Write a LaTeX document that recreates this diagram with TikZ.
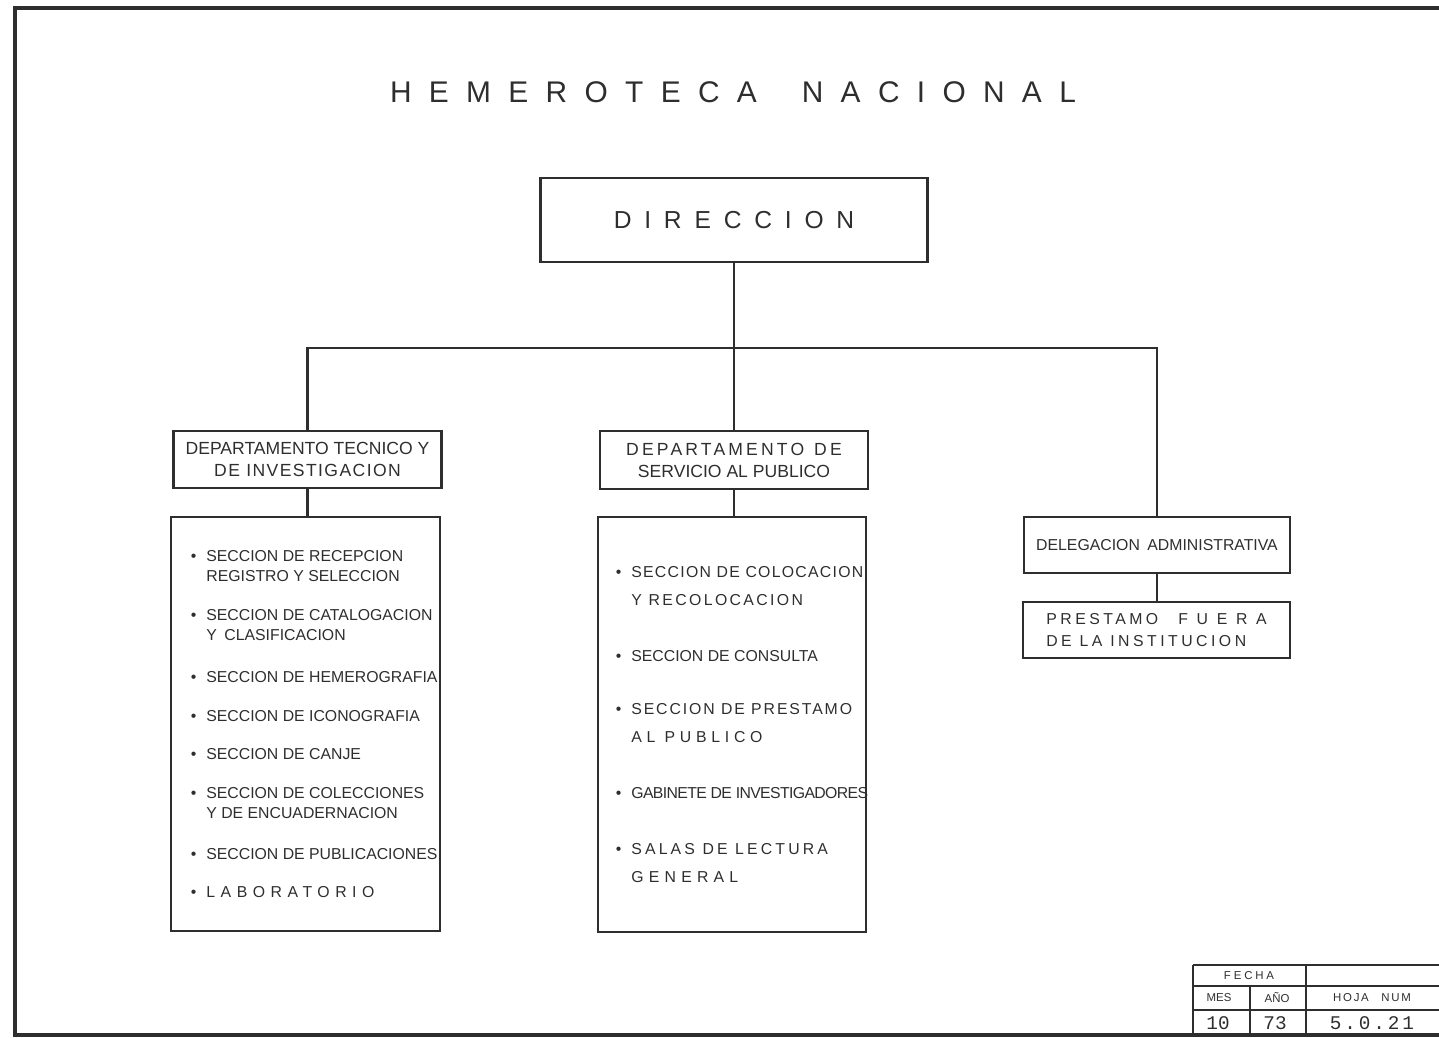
\documentclass[tikz,border=0pt]{standalone}
\usepackage{fontspec}
\setmainfont{Liberation Sans}
\newfontfamily\numfont{Liberation Mono}
\usetikzlibrary{calc}
\definecolor{ink}{HTML}{2E2E2E}
\newcommand{\spaced}[2]{{\addfontfeature{LetterSpace=#1}#2}}

\tikzset{
    box/.style={draw=ink,line width=1.5pt,inner sep=0pt,align=center,text=ink},
    link/.style={draw=ink,line width=1.5pt},
    sec/.style={anchor=base west,align=left,inner sep=0pt,text=ink},
    cell/.style={inner sep=0pt,text=ink},
}

\begin{document}
\begin{tikzpicture}[x=0.2mm,y=-0.2mm]
            \useasboundingbox (0,0) rectangle (1439,1038);
            \draw[ink,line width=1.8pt] (1439,8) -- (15,8) -- (15,1035) -- (1439,1035);
            \node[cell,font=\fontsize{17}{20}\selectfont] (title) at (733,92) {\spaced{58}{HEMEROTECA}\hspace{9mm}\spaced{58}{NACIONAL}};
            \node[box,minimum width=77.4mm,minimum height=16.8mm,font=\fontsize{14}{16}\selectfont] (dir) at (734,220) {\spaced{52}{DIRECCION}};
            \node[box,minimum width=53.6mm,minimum height=11.4mm,font=\fontsize{10}{12.5}\selectfont] (tec) at (307.5,459.5) {DEPARTAMENTO TECNICO Y\\\spaced{8}{DE INVESTIGACION}};
            \node[box,minimum width=53.8mm,minimum height=82.8mm] (teclist) at (305.5,724) {};
            \node[box,minimum width=53.6mm,minimum height=11.6mm,font=\fontsize{10}{12.5}\selectfont] (sp) at (734,460) {\spaced{18}{DEPARTAMENTO}\hspace{2mm}\spaced{18}{DE}\\SERVICIO AL PUBLICO};
            \node[box,minimum width=53.6mm,minimum height=83mm] (splist) at (732,724.5) {};
            \node[box,minimum width=53.2mm,minimum height=11.2mm,font=\fontsize{9}{11}\selectfont] (adm) at (1157,545) {DELEGACION\hspace{1.5mm}ADMINISTRATIVA};
            \node[box,minimum width=53.4mm,minimum height=11.2mm,font=\fontsize{9}{12.5}\selectfont,align=left] (pres) at (1156.5,630) {\spaced{22}{PRESTAMO}\hspace{4mm}\spaced{55}{FUERA}\\\spaced{22}{DE LA INSTITUCION}};
            \coordinate (bus) at (734,348);
            \draw[link] (dir) -- (sp);
            \draw[link] (tec.north) |- (bus) -| (adm.north);
            \draw[link] (tec) -- (tec.south |- teclist.north);
            \draw[link] (sp) -- (sp.south |- splist.north);
            \draw[link] (adm) -- (adm.south |- pres.north);
            \foreach \yy/\txt [count=\i] in {
                581.5/{SECCION DE RECEPCION\\REGISTRO Y SELECCION},
                640.5/{SECCION DE CATALOGACION\\Y\hspace{1.5mm}CLASIFICACION},
                682/{SECCION DE HEMEROGRAFIA},
                721/{SECCION DE ICONOGRAFIA},
                759/{SECCION DE CANJE},
                818.5/{SECCION DE COLECCIONES\\Y DE ENCUADERNACION},
                859/{SECCION DE PUBLICACIONES},
                897/{\spaced{35}{LABORATORIO}}}{
                \node[sec,font=\fontsize{9}{11.3}\selectfont] (tec\i) at (206,\yy) {\llap{\textbullet\hspace{2mm}}\txt};
            }
            \foreach \yy/\txt [count=\i] in {
                605.5/{\spaced{8}{SECCION DE COLOCACION}\\\spaced{15}{Y RECOLOCACION}},
                661.5/{SECCION DE CONSULTA},
                742.5/{\spaced{12}{SECCION DE PRESTAMO}\\\spaced{30}{AL PUBLICO}},
                798.5/{\spaced{-4}{GABINETE DE INVESTIGADORES}},
                882.5/{\spaced{20}{SALAS DE LECTURA}\\\spaced{33}{GENERAL}}}{
                \node[sec,font=\fontsize{9}{15.9}\selectfont] (sp\i) at (631,\yy) {\llap{\textbullet\hspace{2mm}}\txt};
            }
            \draw[ink,line width=1pt] (1193,965) -- (1439,965) (1193,986) -- (1439,986) (1193,1010) -- (1439,1010);
            \draw[ink,line width=1pt] (1193,965) -- (1193,1035) (1306,965) -- (1306,1035) (1250,986) -- (1250,1035);
            \node[cell,font=\fontsize{6.5}{8}\selectfont] (fecha) at (1249,975.5) {\spaced{25}{FECHA}};
            \node[cell,font=\fontsize{6.5}{8}\selectfont] (mes) at (1219,998) {MES};
            \node[cell,font=\fontsize{6.5}{8}\selectfont] (anio) at (1277,998) {AÑO};
            \node[cell,font=\fontsize{6.5}{8}\selectfont] (hoja) at (1372,998) {\spaced{15}{HOJA}\hspace{2.5mm}\spaced{15}{NUM}};
            \node[cell,font=\numfont\fontsize{11}{12}\selectfont] (mesv) at (1218,1023) {10};
            \node[cell,font=\numfont\fontsize{11}{12}\selectfont] (aniov) at (1275,1023) {73};
            \node[cell,font=\numfont\fontsize{11}{12}\selectfont] (hojav) at (1372,1023) {\spaced{15}{5.0.21}};
        \end{tikzpicture}
\end{document}
